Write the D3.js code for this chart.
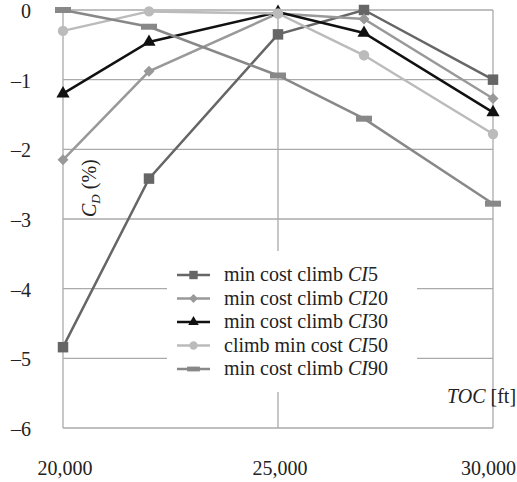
<!DOCTYPE html>
<html>
<head>
<meta charset="utf-8">
<script src="https://cdn.jsdelivr.net/npm/d3@7"></script>
<style>
  body { margin: 0; background: #fff; }
  svg text { font-family: "Liberation Serif", "Times New Roman", serif; font-size: 20px; fill: #222; }
</style>
</head>
<body>
<div id="chart"></div>
<script>
// data
var toc = [20000, 22000, 25000, 27000, 30000];
var ci5 = [-4.84, -2.42, -0.35, 0.0, -1.0];
var ci20 = [-2.15, -0.88, -0.05, -0.13, -1.27];
var ci30 = [-1.2, -0.46, -0.03, -0.33, -1.47];
var ci50 = [-0.3, -0.02, -0.05, -0.65, -1.78];
var ci90 = [0.0, -0.24, -0.94, -1.56, -2.78];
var seriesNames = [
  ['min cost climb ', '5'],
  ['min cost climb ', '20'],
  ['min cost climb ', '30'],
  ['climb min cost ', '50'],
  ['min cost climb ', '90']
];
var yTicks = [0, -1, -2, -3, -4, -5, -6];
var xTicks = [20000, 25000, 30000];

var styles = [
  { color: '#666', marker: 'square' },
  { color: '#999', marker: 'diamond' },
  { color: '#111', marker: 'triangle' },
  { color: '#bbb', marker: 'circle' },
  { color: '#888', marker: 'dash' }
];

var w = 517, h = 482;
var values = [ci5, ci20, ci30, ci50, ci90];

var x = d3.scaleLinear().domain([20000, 30000]).range([63, 493]);
var y = d3.scaleLinear().domain([-6, 0]).range([428, 10]);

var svg = d3.select('#chart').append('svg')
  .attr('width', w)
  .attr('height', h);

// grid
svg.append('g').selectAll('line')
  .data(yTicks)
  .enter().append('line')
  .attr('x1', x(20000)).attr('x2', x(30000))
  .attr('y1', function (d) { return y(d); })
  .attr('y2', function (d) { return y(d); })
  .attr('stroke', '#aaa')
  .attr('stroke-width', 1.3);

svg.append('g').selectAll('line')
  .data(xTicks)
  .enter().append('line')
  .attr('x1', function (d) { return x(d); })
  .attr('x2', function (d) { return x(d); })
  .attr('y1', y(0)).attr('y2', y(-6))
  .attr('stroke', '#aaa')
  .attr('stroke-width', 1.3);

// tick labels
svg.append('g').selectAll('text')
  .data(yTicks)
  .enter().append('text')
  .attr('x', 31)
  .attr('y', function (d) { return y(d) + 8; })
  .attr('text-anchor', 'end')
  .text(function (d) { return d === 0 ? '0' : '\u2013' + Math.abs(d); });

svg.append('g').selectAll('text')
  .data(xTicks)
  .enter().append('text')
  .attr('x', function (d, i) { return i === xTicks.length - 1 ? w - 1 : x(d) + 2; })
  .attr('y', 475)
  .attr('text-anchor', function (d, i) { return i === xTicks.length - 1 ? 'end' : 'middle'; })
  .text(function (d) { return d3.format(',')(d); });

// axis titles
var yt = svg.append('text')
  .attr('transform', 'translate(96,217) rotate(-90)');
yt.append('tspan').attr('font-style', 'italic').text('C');
yt.append('tspan').attr('font-style', 'italic').attr('font-size', 13).attr('dy', 4).text('D');
yt.append('tspan').attr('dy', -4).text(' (%)');

var xt = svg.append('text').attr('x', 447).attr('y', 403);
xt.append('tspan').attr('font-style', 'italic').text('TOC');
xt.append('tspan').text(' [ft]');

var drawMarker = function (g, type, color) {
  if (type === 'dash') {
    g.append('rect').attr('x', -8).attr('y', -3).attr('width', 16).attr('height', 6).attr('fill', color);
    return;
  }
  var sym = {
    square: d3.symbol(d3.symbolSquare, 110),
    diamond: d3.symbol(d3.symbolSquare, 60),
    triangle: d3.symbol(d3.symbolTriangle, 75),
    circle: d3.symbol(d3.symbolCircle, 85)
  }[type];
  g.append('path')
    .attr('d', sym())
    .attr('transform', type === 'diamond' ? 'rotate(45)' : null)
    .attr('fill', color);
};

// series
var line = d3.line()
  .x(function (d, i) { return x(toc[i]); })
  .y(function (d) { return y(d); });

values.forEach(function (vals, k) {
  var st = styles[k];
  var g = svg.append('g');
  g.append('path')
    .attr('d', line(vals))
    .attr('fill', 'none')
    .attr('stroke', st.color)
    .attr('stroke-width', 2.5);
  vals.forEach(function (v, i) {
    var m = g.append('g').attr('transform', 'translate(' + x(toc[i]) + ',' + y(v) + ')');
    drawMarker(m, st.marker, st.color);
  });
});

// legend
var legend = svg.append('g');
legend.append('rect')
  .attr('x', 167).attr('y', 251)
  .attr('width', 250).attr('height', 141)
  .attr('fill', '#fff');

seriesNames.forEach(function (n, k) {
  var cy = 275 + k * 23.5;
  var st = styles[k];
  legend.append('line')
    .attr('x1', 177).attr('x2', 210)
    .attr('y1', cy).attr('y2', cy)
    .attr('stroke', st.color)
    .attr('stroke-width', 2.5);
  var m = legend.append('g').attr('transform', 'translate(193.5,' + cy + ') scale(0.8)');
  drawMarker(m, st.marker, st.color);
  var t = legend.append('text').attr('x', 224).attr('y', cy + 6);
  t.append('tspan').text(n[0]);
  t.append('tspan').attr('font-style', 'italic').text('CI');
  t.append('tspan').text(n[1]);
});
</script>
</body>
</html>
